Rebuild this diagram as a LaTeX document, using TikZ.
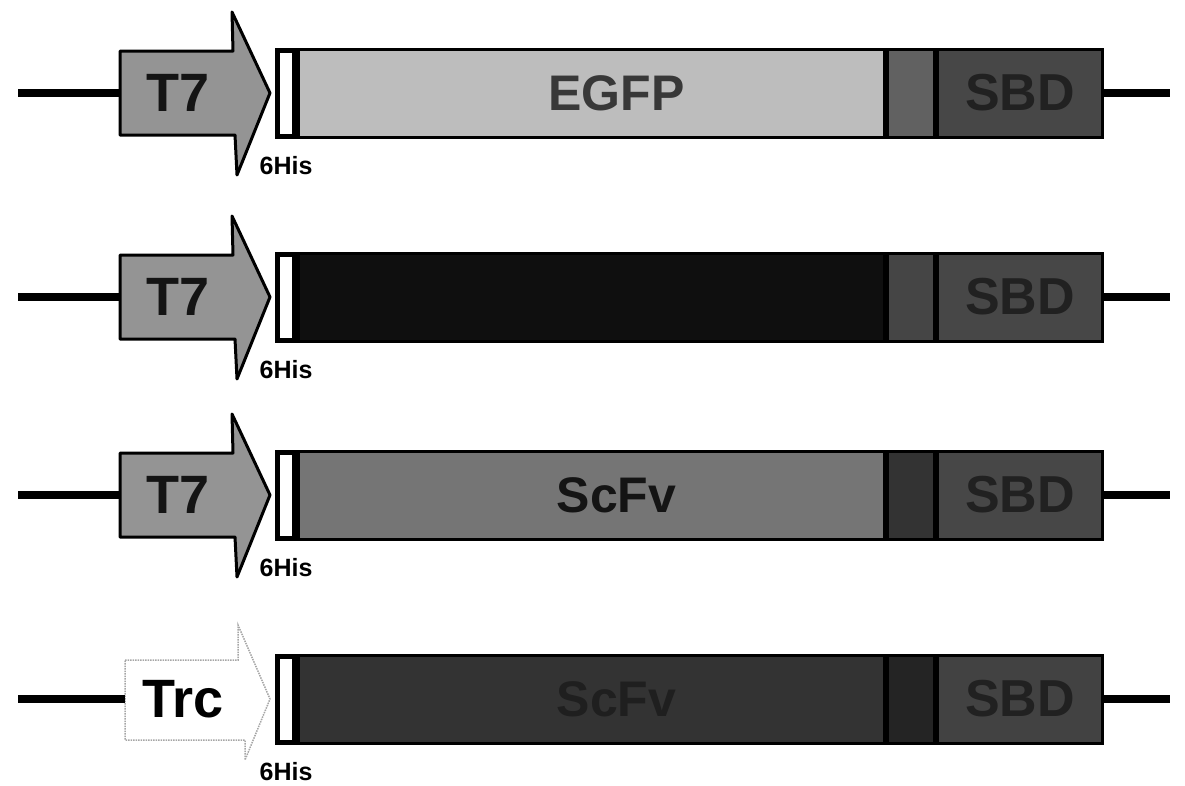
\documentclass[tikz,border=0pt]{standalone}
\usepackage{fontspec}
\setmainfont{Liberation Sans}
\usetikzlibrary{positioning}

\definecolor{promgray}{gray}{0.58}
\definecolor{inkdark}{gray}{0.08}
% gene / linker / SBD fills and inks per row
\definecolor{geneA}{gray}{0.74}  \definecolor{inkA}{gray}{0.22}
\definecolor{geneB}{gray}{0.06}  \definecolor{inkB}{gray}{0.06}
\definecolor{geneC}{gray}{0.46}  \definecolor{inkC}{gray}{0.08}
\definecolor{geneD}{gray}{0.20}  \definecolor{inkD}{gray}{0.12}
\definecolor{linkA}{gray}{0.38}  \definecolor{sbdA}{gray}{0.28}
\definecolor{linkB}{gray}{0.27}  \definecolor{sbdB}{gray}{0.28}
\definecolor{linkC}{gray}{0.20}  \definecolor{sbdC}{gray}{0.28}
\definecolor{linkD}{gray}{0.14}  \definecolor{sbdD}{gray}{0.26}
\definecolor{sbdink}{gray}{0.13}

\tikzset{
  dnaline/.style={line width=8pt, black},
  promo/.style={fill=promgray, draw=black, line width=3pt, line join=round},
  promtext/.style={minimum width=115pt, minimum height=84pt, inner sep=0pt,
    anchor=west, text=inkdark, font=\fontsize{54}{54}\selectfont\bfseries},
  hisbox/.style={draw=black, fill=white, line width=5pt, minimum width=17pt,
    minimum height=86pt, inner sep=0pt, anchor=west},
  hislabel/.style={inner sep=0pt, font=\fontsize{25}{25}\selectfont\bfseries},
  part/.style={draw=black, line width=3pt, minimum height=88pt, inner sep=0pt,
    font=\fontsize{52}{52}\selectfont\bfseries},
}

\begin{document}
\begin{tikzpicture}[x=1pt, y=-1pt]
\useasboundingbox (0,0) rectangle (1185,785);

% T7 promoters
\foreach \n/\cy in {1/93, 2/297, 3/495}{
  \draw[promo] (120,\cy-42) -- (233,\cy-42) -- (232,\cy-81) -- (270,\cy)
    -- (237,\cy+82) -- (235,\cy+42) -- (120,\cy+42) -- cycle;
  \node[promtext] (prom\n) at (120,\cy) {T7};
}

% Trc promoter (faint, dotted)
\draw[densely dotted, gray!70, line width=1.5pt] (125,660) -- (238,660) -- (238,625)
  -- (270,699) -- (245,760) -- (245,740) -- (125,740) -- cycle;
\node[promtext, text=black] (prom4) at (125,699) {Trc};

% construct bars
\foreach \n/\cy/\gtxt/\r in {1/93/EGFP/A, 2/297/{}/B, 3/495/ScFv/C, 4/699/ScFv/D}{
  \coordinate (left\n) at (18,\cy);
  \coordinate (right\n) at (1170,\cy);
  \draw[dnaline] (left\n) -- (prom\n.west);
  \node[hisbox] (tag\n) at (275,\cy) {};
  \node[hislabel, below=18pt of tag\n] (his\n) {6His};
  \node[part, fill=gene\r, minimum width=586pt, right=0pt of tag\n,
    label={[xshift=25pt, text=ink\r, font=\fontsize{50}{50}\selectfont\bfseries]center:\gtxt}]
    (gene\n) {};
  \node[part, fill=link\r, minimum width=47pt, right=0pt of gene\n] (linker\n) {};
  \node[part, fill=sbd\r, text=sbdink, minimum width=165pt, right=0pt of linker\n]
    (sbd\n) {SBD};
  \draw[dnaline] (sbd\n.east) -- (right\n);
}
\end{tikzpicture}
\end{document}
